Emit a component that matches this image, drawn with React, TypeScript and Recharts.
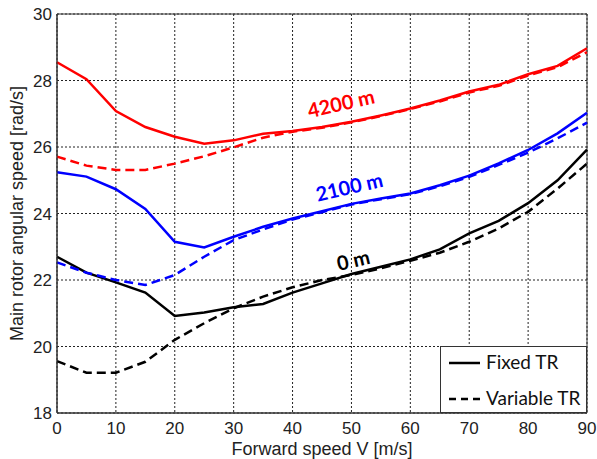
import React from 'react';
import {
  LineChart,
  Line,
  XAxis,
  YAxis,
  CartesianGrid,
  Legend,
  ReferenceArea,
  ReferenceDot,
  Label,
} from 'recharts';

// forward speed samples [m/s]
const speeds = [0, 5, 10, 15, 20, 25, 30, 35, 40, 45, 50, 55, 60, 65, 70, 75, 80, 85, 90];

// main rotor angular speed [rad/s] per altitude, fixed vs variable tail rotor
const fixed4200 = [28.55, 28.04, 27.08, 26.6, 26.31, 26.1, 26.2, 26.4, 26.48, 26.6, 26.76, 26.95, 27.16, 27.4, 27.67, 27.87, 28.19, 28.44, 28.97];
const variable4200 = [25.71, 25.44, 25.31, 25.31, 25.5, 25.72, 25.99, 26.28, 26.46, 26.58, 26.74, 26.93, 27.14, 27.37, 27.64, 27.84, 28.15, 28.4, 28.85];
const fixed2100 = [25.24, 25.11, 24.73, 24.14, 23.15, 22.98, 23.3, 23.6, 23.85, 24.07, 24.29, 24.45, 24.6, 24.85, 25.14, 25.51, 25.91, 26.41, 27.03];
const variable2100 = [22.53, 22.22, 22.0, 21.85, 22.15, 22.7, 23.2, 23.52, 23.82, 24.04, 24.27, 24.43, 24.58, 24.82, 25.1, 25.46, 25.83, 26.26, 26.73];
const fixed0 = [22.7, 22.22, 21.93, 21.62, 20.92, 21.02, 21.18, 21.28, 21.62, 21.9, 22.18, 22.4, 22.62, 22.92, 23.4, 23.78, 24.31, 25.0, 25.92];
const variable0 = [19.56, 19.21, 19.21, 19.54, 20.2, 20.7, 21.15, 21.5, 21.78, 22.0, 22.15, 22.35, 22.58, 22.82, 23.15, 23.55, 24.05, 24.75, 25.5];

const xTicks = [0, 10, 20, 30, 40, 50, 60, 70, 80, 90];
const yTicks = [18, 20, 22, 24, 26, 28, 30];

// altitude tags placed just above the curves
const altitudeTags = [
  { text: '4200 m', v: 48.2, w: 27.33, color: '#ff0000' },
  { text: '2100 m', v: 49.6, w: 24.82, color: '#0000ff' },
  { text: '0 m', v: 50.3, w: 22.62, color: '#000000' },
];

const rows = speeds.map((v, i) => ({
  v,
  f4200: fixed4200[i],
  t4200: variable4200[i],
  f2100: fixed2100[i],
  t2100: variable2100[i],
  f0: fixed0[i],
  t0: variable0[i],
}));

const tickFont = { fontFamily: '"Liberation Sans", Arial, sans-serif', fontSize: 17, fill: '#222' };
const DASH = '9 5';

const TagLabel = (props: any) => {
  const { viewBox, text, color } = props;
  const cx = viewBox.x + viewBox.width / 2;
  const cy = viewBox.y + viewBox.height / 2;
  return (
    <text
      x={cx}
      y={cy}
      transform={`rotate(-13 ${cx} ${cy})`}
      textAnchor="middle"
      dominantBaseline="central"
      fill={color}
      style={{ fontFamily: 'Lato, sans-serif', fontSize: 20, fontWeight: 700 }}
    >
      {text}
    </text>
  );
};

const YTitle = (props: any) => {
  const { viewBox } = props;
  const x = 23;
  const y = viewBox.y + viewBox.height / 2;
  return (
    <text
      x={x}
      y={y}
      transform={`rotate(-90 ${x} ${y})`}
      textAnchor="middle"
      fill="#222"
      style={{ fontFamily: '"Liberation Sans", Arial, sans-serif', fontSize: 18 }}
    >
      Main rotor angular speed [rad/s]
    </text>
  );
};

const XTitle = (props: any) => {
  const { viewBox } = props;
  const x = viewBox.x + viewBox.width / 2;
  return (
    <text
      x={x}
      y={455}
      textAnchor="middle"
      fill="#222"
      style={{ fontFamily: '"Liberation Sans", Arial, sans-serif', fontSize: 18 }}
    >
      Forward speed V [m/s]
    </text>
  );
};

const LegendBox = () => (
  <svg width={147} height={67} style={{ display: 'block' }}>
    <rect x={0.5} y={0.5} width={146} height={66} fill="#fff" stroke="#333" strokeWidth={1} />
    <line x1={9} x2={40} y1={17} y2={17} stroke="#000" strokeWidth={2.5} />
    <line x1={9} x2={40} y1={53} y2={53} stroke="#000" strokeWidth={2.5} strokeDasharray="7 5" />
    <text x={46} y={23} style={{ fontFamily: 'Lato, sans-serif', fontSize: 19 }} fill="#111">
      Fixed TR
    </text>
    <text x={46} y={59} style={{ fontFamily: 'Lato, sans-serif', fontSize: 19 }} fill="#111">
      Variable TR
    </text>
  </svg>
);

export default function App() {
  return (
    <div style={{ position: 'absolute', left: 0, top: 0, width: 597, height: 459, background: '#fff' }}>
      <LineChart width={597} height={459} data={rows} margin={{ top: 14, right: 10, bottom: 0, left: 0 }}>
        <CartesianGrid stroke="#222" strokeDasharray="2 2" />
        <XAxis
          dataKey="v"
          type="number"
          domain={[0, 90]}
          ticks={xTicks}
          height={46}
          tickSize={0}
          tickMargin={9}
          tick={tickFont}
          axisLine={{ stroke: '#333' }}
          interval={0}
        >
          <Label content={<XTitle />} />
        </XAxis>
        <YAxis
          type="number"
          domain={[18, 30]}
          ticks={yTicks}
          width={57}
          tickSize={0}
          tickMargin={5}
          tick={tickFont}
          axisLine={{ stroke: '#333' }}
          interval={0}
        >
          <Label content={<YTitle />} />
        </YAxis>
        <ReferenceArea x1={0} x2={90} y1={18} y2={30} fill="none" stroke="#333" strokeWidth={1} />

        <Line dataKey="t0" stroke="#000" strokeWidth={2.5} strokeDasharray={DASH} dot={false} activeDot={false} isAnimationActive={false} />
        <Line dataKey="f0" stroke="#000" strokeWidth={2.5} dot={false} activeDot={false} isAnimationActive={false} />
        <Line dataKey="t2100" stroke="#0000ff" strokeWidth={2.5} strokeDasharray={DASH} dot={false} activeDot={false} isAnimationActive={false} />
        <Line dataKey="f2100" stroke="#0000ff" strokeWidth={2.5} dot={false} activeDot={false} isAnimationActive={false} />
        <Line dataKey="t4200" stroke="#ff0000" strokeWidth={2.5} strokeDasharray={DASH} dot={false} activeDot={false} isAnimationActive={false} />
        <Line dataKey="f4200" stroke="#ff0000" strokeWidth={2.5} dot={false} activeDot={false} isAnimationActive={false} />

        {altitudeTags.map((t) => (
          <ReferenceDot
            key={t.text}
            x={t.v}
            y={t.w}
            r={1}
            fill="none"
            stroke="none"
            label={<TagLabel text={t.text} color={t.color} />}
          />
        ))}

        <Legend
          layout="vertical"
          align="center"
          verticalAlign="middle"
          content={<LegendBox />}
          wrapperStyle={{ left: 440, top: 346, width: 147, height: 67 }}
        />
      </LineChart>
    </div>
  );
}
